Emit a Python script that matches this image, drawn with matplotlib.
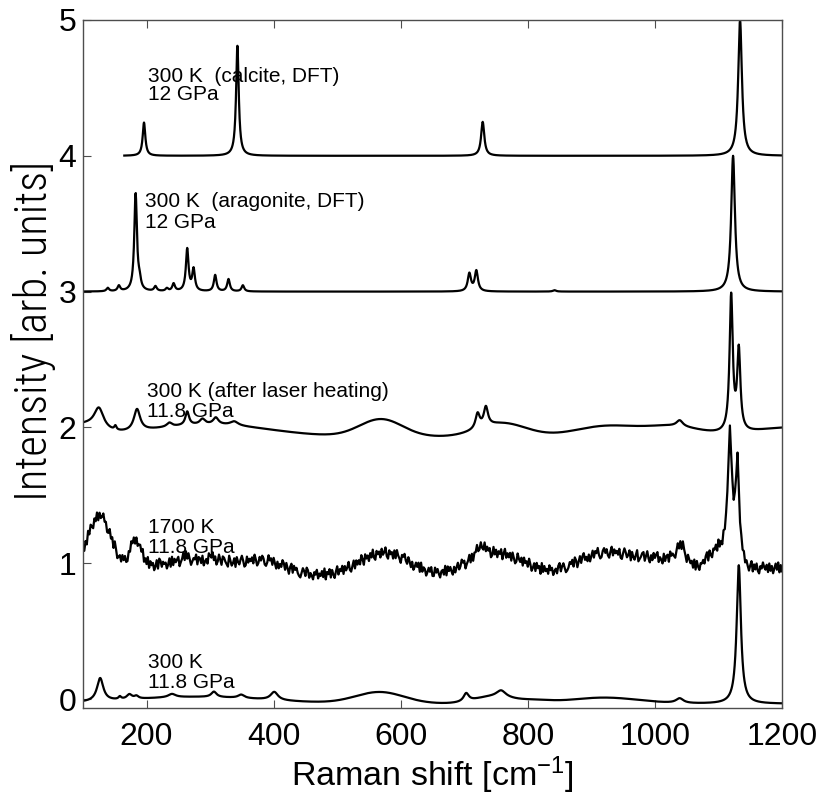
import numpy as np
import matplotlib
matplotlib.use("Agg")
import matplotlib.pyplot as plt

plt.rcParams['font.family'] = ['Liberation Sans', 'DejaVu Sans']
plt.rcParams['mathtext.fontset'] = 'custom'
plt.rcParams['mathtext.rm'] = 'Liberation Sans'
plt.rcParams['mathtext.it'] = 'Liberation Sans:italic'
plt.rcParams['mathtext.sf'] = 'Liberation Sans'

# ---------------- data (peak tables) ----------------
offsets = [0, 1, 2, 3, 4]
labels_line1 = ["300 K", "1700 K", "300 K (after laser heating)",
                "300 K  (aragonite, DFT)", "300 K  (calcite, DFT)"]
labels_line2 = ["11.8 GPa", "11.8 GPa", "11.8 GPa", "12 GPa", "12 GPa"]
label_x = [202, 202, 201, 197, 202]
label_y1 = [0.228, 1.222, 2.224, 3.623, 4.543]
label_y2 = [0.081, 1.075, 2.077, 3.468, 4.411]

# calcite DFT (Lorentzian lines)
calc_start = 165
calc_pos = [196, 343, 729, 1134]
calc_amp = [0.245, 0.81, 0.25, 1.0]
calc_fwhm = [5, 5, 6, 7]

# aragonite DFT (Lorentzian lines)
arag_pos = [139, 156.5, 182.8, 189, 214, 232, 242.6, 264, 274, 308, 329, 351.6, 708, 719, 842, 1123]
arag_amp = [0.025, 0.04, 0.72, 0.06, 0.035, 0.02, 0.055, 0.31, 0.16, 0.12, 0.09, 0.045, 0.13, 0.15, 0.01, 1.0]
arag_fwhm = [5, 5, 5, 5, 5, 5, 5, 5, 5, 5, 5, 5, 6, 6, 6, 7]

# 300 K, 11.8 GPa (bottom)
b300_base = -0.035
b300_lpos = [127, 158, 173, 184, 240, 306, 349, 401, 703, 758, 1039, 1132]
b300_lamp = [0.17, 0.02, 0.035, 0.02, 0.025, 0.04, 0.025, 0.06, 0.06, 0.05, 0.035, 1.02]
b300_lfwhm = [12, 5, 10, 8, 14, 10, 12, 14, 10, 18, 14, 8]
b300_gpos = [280, 567, 745, 920, 810]
b300_gamp = [0.05, 0.085, 0.05, 0.045, 0.02]
b300_gfwhm = [260, 90, 70, 130, 60]

# 300 K after laser heating
alh_base = -0.07
alh_lpos = [125, 151, 185, 236, 264, 288, 309, 338, 721, 734, 1039, 1120, 1132]
alh_lamp = [0.15, 0.03, 0.16, 0.03, 0.10, 0.04, 0.05, 0.03, 0.11, 0.14, 0.045, 1.0, 0.59]
alh_lfwhm = [18, 4, 12, 10, 7, 10, 10, 15, 8, 8, 12, 6, 6]
alh_gpos = [100, 300, 569, 760, 925, 1030, 1220]
alh_gamp = [0.08, 0.09, 0.13, 0.10, 0.08, 0.07, 0.07]
alh_gfwhm = [60, 220, 80, 90, 120, 100, 150]

# 1700 K
h17_base = -0.13
h17_lpos = [262, 304, 722, 733, 1041, 1118, 1130]
h17_lamp = [0.05, 0.03, 0.08, 0.05, 0.17, 0.91, 0.74]
h17_lfwhm = [8, 10, 10, 10, 20, 8, 7]
h17_gpos = [125, 183, 290, 390, 575, 750, 920, 1010, 1100, 1190]
h17_gamp = [0.43, 0.20, 0.15, 0.05, 0.20, 0.20, 0.20, 0.12, 0.18, 0.09]
h17_gfwhm = [45, 22, 260, 60, 100, 115, 110, 90, 45, 120]
# hand-read jitter of the 1700 K trace (digits, 0..9)
h17_noise_digits = ("52719384062817359460283"
                    "71950362847106395827146"
                    "38052917460381972645038"
                    "19274680359172840365917"
                    "62803519748260395187420"
                    "95137084269501836472950"
                    "27486103957284061539728"
                    "40692857310486297153064"
                    "81537290648173059264817"
                    "35920481736295084617392"
                    "07461835920746182953076"
                    "94285160374819265037481")


def lor(x, pos, amp, fwhm):
    y = np.zeros_like(x, dtype=float)
    for p, a, w in zip(pos, amp, fwhm):
        y += a / (1 + ((x - p) / (w / 2.0)) ** 2)
    return y


def gau(x, pos, amp, fwhm):
    y = np.zeros_like(x, dtype=float)
    for p, a, w in zip(pos, amp, fwhm):
        y += a * np.exp(-4 * np.log(2) * ((x - p) / w) ** 2)
    return y


x_fine = np.arange(100, 1200.5, 0.5)
x_calc = x_fine[x_fine >= calc_start]

y_calc = offsets[4] + lor(x_calc, calc_pos, calc_amp, calc_fwhm)
y_arag = offsets[3] + lor(x_fine, arag_pos, arag_amp, arag_fwhm)
y_alh = offsets[2] + alh_base + lor(x_fine, alh_lpos, alh_lamp, alh_lfwhm) + gau(x_fine, alh_gpos, alh_gamp, alh_gfwhm)
y_b300 = offsets[0] + b300_base + lor(x_fine, b300_lpos, b300_lamp, b300_lfwhm) + gau(x_fine, b300_gpos, b300_gamp, b300_gfwhm)

d = np.array([int(c) for c in h17_noise_digits], dtype=float)
noise = np.concatenate([d, d[::-1], np.roll(d, 11)])
x_h17 = np.arange(100, 1201, 2.0)
noise = (noise[:len(x_h17)] - 4.5) * 0.009
y_h17 = offsets[1] + h17_base + lor(x_h17, h17_lpos, h17_lamp, h17_lfwhm) + gau(x_h17, h17_gpos, h17_gamp, h17_gfwhm) + noise

# ---------------- figure ----------------
fig = plt.figure(figsize=(8.24, 8.0), dpi=100)
ax = fig.add_axes([83 / 824, 92 / 800, (782 - 83) / 824, (708 - 20) / 800])

lw = 1.6
ax.plot(x_fine, y_b300, color='black', lw=lw)
ax.plot(x_h17, y_h17, color='black', lw=1.6)
ax.plot(x_fine, y_alh, color='black', lw=lw)
ax.plot(x_fine, y_arag, color='black', lw=lw)
ax.plot(x_calc, y_calc, color='black', lw=lw)

for i in range(5):
    ax.text(label_x[i], label_y1[i], labels_line1[i], fontsize=15, va='baseline', ha='left')
    ax.text(label_x[i], label_y2[i], labels_line2[i], fontsize=15, va='baseline', ha='left')

ax.set_xlim(100, 1200)
ax.set_ylim(-0.066, 5)
ax.set_xticks([200, 400, 600, 800, 1000, 1200])
ax.set_yticks([0, 1, 2, 3, 4, 5])
ax.tick_params(axis='x', direction='in', length=6, width=0.8, top=True, labelsize=23, pad=10, color='0.3')
ax.tick_params(axis='y', direction='in', length=6, width=0.8, right=False, labelsize=23, pad=5, color='0.3')
for s in ax.spines.values():
    s.set_color('0.3')
    s.set_linewidth(1.0)

ax.set_xlabel(r'Raman shift [cm$^{-1}$]', fontsize=24.5, labelpad=2)
fig.text(34 / 824, 1 - 331 / 800, 'Intensity [arb. units]', fontsize=32, fontweight='light',
         family=['Roboto Condensed', 'Archivo Narrow', 'Liberation Sans'],
         rotation=90, ha='center', va='center')

fig.savefig('out.png', dpi=100)
